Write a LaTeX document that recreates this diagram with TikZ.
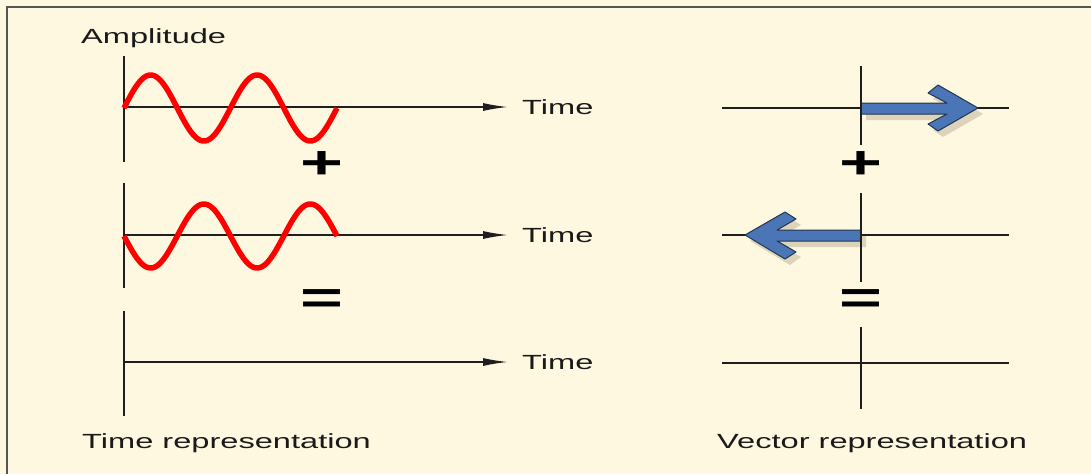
\documentclass[tikz,border=0pt]{standalone}
\usepackage{fontspec}
\setmainfont{Liberation Sans}
\newfontfamily\lblfont{Liberation Sans}[FakeStretch=1.59]
\newfontfamily\opfont{Liberation Sans}[FakeStretch=1.6]
\usetikzlibrary{arrows.meta}

\definecolor{bgcream}{HTML}{FFF8E1}
\definecolor{framegray}{HTML}{555555}
\definecolor{axisgray}{HTML}{1E1E1E}
\definecolor{textgray}{HTML}{1A1A1A}
\definecolor{wavered}{HTML}{FF0000}
\definecolor{phasorblue}{HTML}{4A76B8}
\definecolor{phasoredge}{HTML}{23354F}
\definecolor{shadowtan}{HTML}{DCD3BA}

\begin{document}
\begin{tikzpicture}[x=1pt,y=-1pt,
  frameline/.style={line width=2pt, draw=framegray},
  axline/.style={line width=1.5pt, draw=axisgray},
  vaxline/.style={line width=2pt, draw=axisgray},
  timeaxis/.style={axline, -{Latex[length=25pt,width=8pt]}},
  wave/.style={line width=5.5pt, draw=wavered, line join=round},
  lbl/.style={font=\lblfont\fontsize{20.5}{24}\selectfont, text=textgray, inner sep=0pt},
  opsign/.style={font=\opfont\bfseries\fontsize{46}{46}\selectfont, text=black, inner sep=0pt},
  phasor/.style={fill=phasorblue, draw=phasoredge, line width=1pt, line join=round},
  phasorshadow/.style={fill=shadowtan, draw=none},
]
% canvas and frame
\fill[bgcream] (0,0) rectangle (1091,474);
\useasboundingbox (0,0) rectangle (1091,474);
\draw[frameline] (7,474) -- (7,7) -- (1091,7);

% ---------- time representation ----------
\coordinate (ta1) at (124,56);   \coordinate (tb1) at (124,162);
\coordinate (ta2) at (124,183);  \coordinate (tb2) at (124,288);
\coordinate (ta3) at (124,311);  \coordinate (tb3) at (124,416);
\coordinate (to1) at (124,107);  \coordinate (te1) at (508,107);
\coordinate (to2) at (124,235);  \coordinate (te2) at (508,235);
\coordinate (to3) at (124,362);  \coordinate (te3) at (508,362);

\draw[vaxline] (ta1) -- (tb1);
\draw[vaxline] (ta2) -- (tb2);
\draw[vaxline] (ta3) -- (tb3);
\draw[timeaxis] (to1) -- (te1);
\draw[timeaxis] (to2) -- (te2);
\draw[timeaxis] (to3) -- (te3);

% the two opposite sine waves (period 106.5 units, i.e. 3.3803 degrees per unit)
\draw[wave] plot[domain=0:213, samples=160, smooth] ({124+\x}, {108 - 33*sin(3.3803*\x)});
\draw[wave] plot[domain=0:213, samples=160, smooth] ({124+\x}, {236 + 32*sin(3.3803*\x)});

\node[lbl, anchor=base west] (amp) at (81,43) {Amplitude};
\node[lbl, anchor=base west] (time1) at (522,114) {Time};
\node[lbl, anchor=base west] (time2) at (522,242) {Time};
\node[lbl, anchor=base west] (time3) at (522,369) {Time};
\node[lbl, anchor=base west] (trep) at (82,448) {Time representation};

\node[opsign] (plusL) at (322,165) {+};
\node[opsign] (eqL) at (322,302) {=};

% ---------- vector representation ----------
\coordinate (va1) at (861,66);   \coordinate (vb1) at (861,145);
\coordinate (va2) at (861,193);  \coordinate (vb2) at (861,282);
\coordinate (va3) at (861,327);  \coordinate (vb3) at (861,409);
\coordinate (hl1) at (722,108);  \coordinate (hr1) at (1009,108);
\coordinate (hl2) at (722,235);  \coordinate (hr2) at (1009,235);
\coordinate (hl3) at (722,363);  \coordinate (hr3) at (1009,363);

\draw[axline] (hl1) -- (hr1);
\draw[axline] (hl2) -- (hr2);
\draw[axline] (hl3) -- (hr3);

% phasor pointing right (shadow first)
\fill[phasorshadow] (866,120) -- (952,120) -- (933,130) -- (943,137) -- (983,114)
  -- (943,91) -- (933,99) -- (952,109) -- (866,109) -- cycle;
\draw[phasor] (861,114) -- (947,114) -- (928,124) -- (938,131) -- (978,108)
  -- (938,85) -- (928,93) -- (947,103) -- (861,103) -- cycle;

% phasor pointing left (shadow first)
\fill[phasorshadow] (866,247) -- (782,247) -- (801,257) -- (790,265) -- (750,241)
  -- (790,218) -- (801,225) -- (782,236) -- (866,236) -- cycle;
\draw[phasor] (861,241) -- (777,241) -- (796,252) -- (785,259) -- (745,235)
  -- (785,212) -- (796,219) -- (777,230) -- (861,230) -- cycle;

\draw[vaxline] (va1) -- (vb1);
\draw[vaxline] (va2) -- (vb2);
\draw[vaxline] (va3) -- (vb3);

\node[opsign] (plusR) at (861,165) {+};
\node[opsign] (eqR) at (861,302) {=};

\node[lbl, anchor=base west] (vrep) at (717,448) {Vector representation};
\end{tikzpicture}
\end{document}
